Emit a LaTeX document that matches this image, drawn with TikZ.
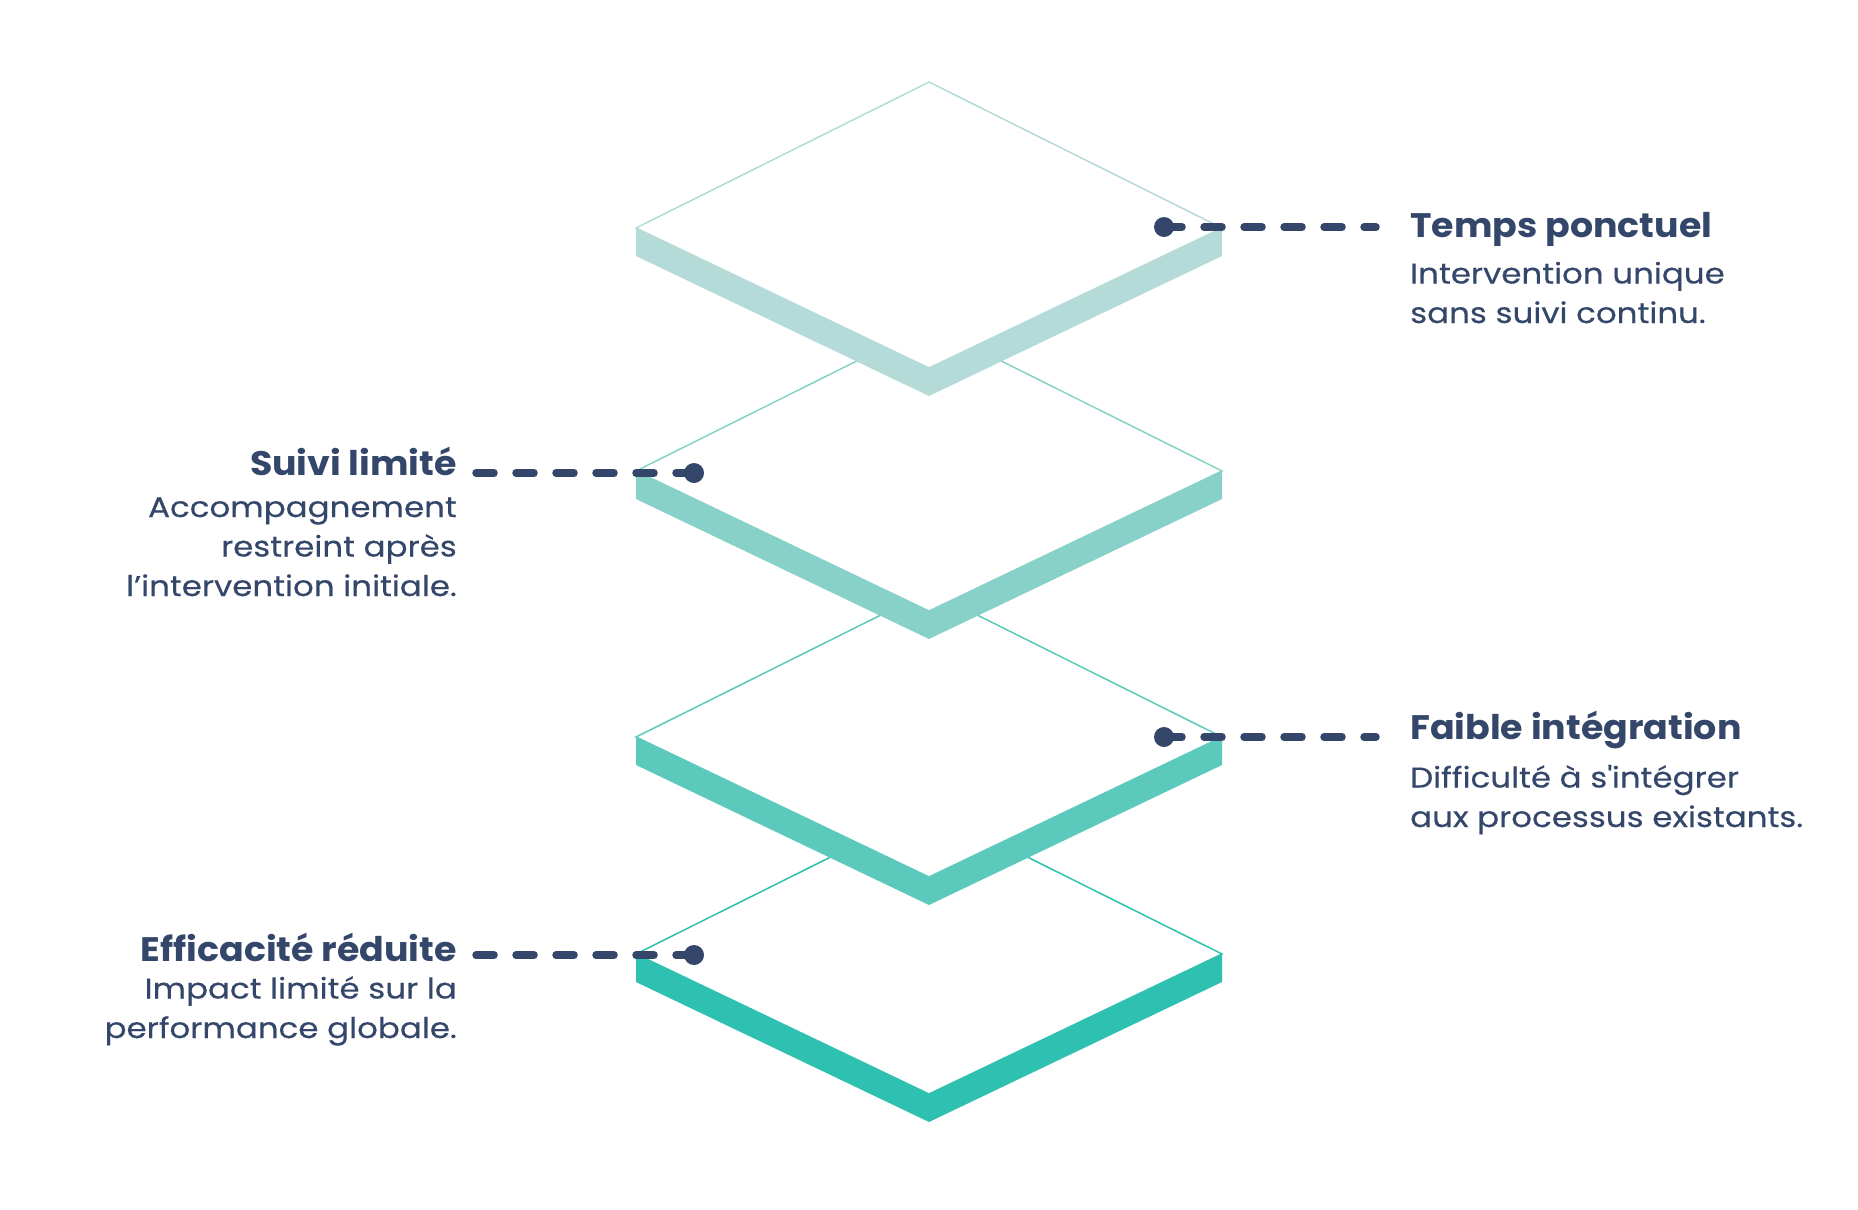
\documentclass[tikz,border=0pt]{standalone}
\usepackage{fontspec}
\setmainfont{Poppins}
\newfontfamily\titlefont{Poppins}[FakeStretch=1.07]
\newfontfamily\descfont{Poppins}[FakeStretch=1.14, FakeBold=0.35]
\usepackage{xcolor}
\definecolor{navy}{HTML}{34476A}
\definecolor{lay1}{HTML}{B5DBD8}
\definecolor{lay2}{HTML}{88D1C8}
\definecolor{lay3}{HTML}{5CC9BD}
\definecolor{lay4}{HTML}{2EC1B1}

\begin{document}
\begin{tikzpicture}[x=1pt, y=-1pt]
\tikzstyle{dot}=[circle, fill=navy, minimum size=20pt, inner sep=0pt]
\tikzstyle{title}=[text=navy, font=\fontsize{34}{40}\selectfont\titlefont\bfseries, inner sep=0pt]
\tikzstyle{desc}=[text=navy, font=\fontsize{28.5}{39.5}\selectfont\descfont, inner sep=0pt]
\tikzstyle{dashline}=[draw=navy, line width=7.5pt, line cap=round, dash pattern=on 18pt off 22pt]
\useasboundingbox (0,0) rectangle (1858,1210);

% layers, the lowest first
\foreach \y/\c in {954/lay4, 737/lay3, 471/lay2, 228/lay1} {
  \fill[fill=\c] (636,\y) -- (929,\y+140) -- (1222,\y) -- (1222,\y+28) -- (929,\y+168) -- (636,\y+28) -- cycle;
  \filldraw[fill=white, draw=\c, line width=1.5pt] (929,\y-146) -- (1222,\y) -- (929,\y+140) -- (636,\y) -- cycle;
}

\node[dot] (d1) at (1164,227) {};
\node[dot] (d2) at (694,473) {};
\node[dot] (d3) at (1164,737) {};
\node[dot] (d4) at (694,955) {};
\coordinate (e1) at (1376,227);
\coordinate (e2) at (476,473);
\coordinate (e3) at (1376,737);
\coordinate (e4) at (476,955);

\path[dashline]
(d1.center) edge (e1)
(d2.center) edge (e2)
(d3.center) edge (e3)
(d4.center) edge (e4);

% base of a text of several lines = its last line
\node[title, anchor=base west] (t1) at (1410,237) {Temps ponctuel};
\node[desc, anchor=base west, align=left] (s1) at (1410,323) {Intervention unique\\sans suivi continu.};
\node[title, anchor=base east] (t2) at (457,475) {Suivi limité};
\node[desc, anchor=base east, align=right] (s2) at (457,596) {Accompagnement\\restreint après\\l’intervention initiale.};
\node[title, anchor=base west] (t3) at (1410,739) {Faible intégration};
\node[desc, anchor=base west, align=left] (s3) at (1410,827) {Difficulté à s\textquotesingle intégrer\\aux processus existants.};
\node[title, anchor=base east] (t4) at (457,961) {Efficacité réduite};
\node[desc, anchor=base east, align=right] (s4) at (457,1038) {Impact limité sur la\\performance globale.};

\end{tikzpicture}
\end{document}
